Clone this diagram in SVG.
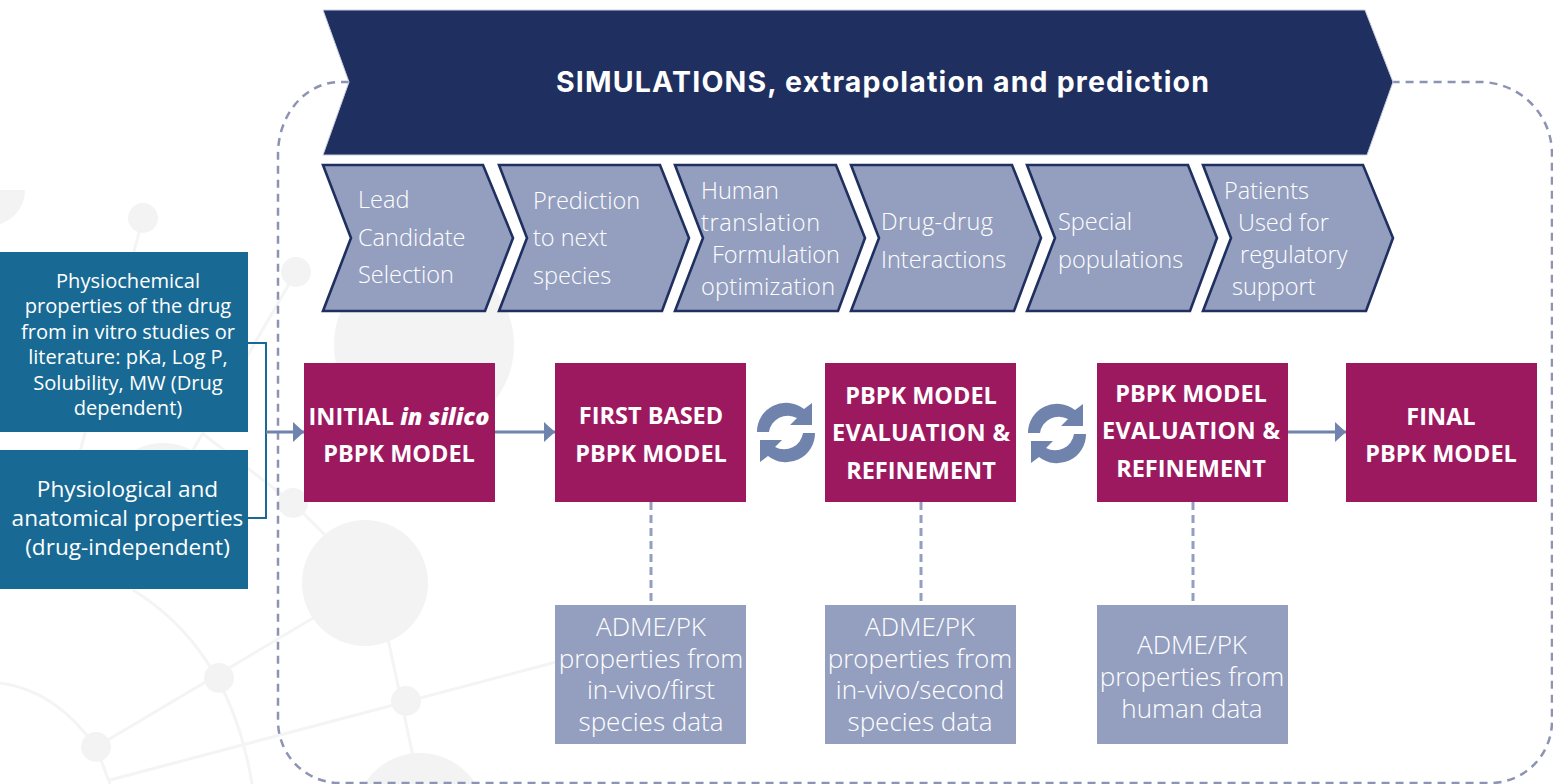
<svg xmlns="http://www.w3.org/2000/svg" width="1553" height="784" viewBox="0 0 1553 784">
<style>
text{font-family:"Open Sans","Noto Sans",sans-serif;fill:#fff}
.bgl{fill:none;stroke:#f4f4f4;stroke-width:3}
.bgc{fill:#f3f3f3}
.chev{fill:#949fc0;stroke:#1f2f5f;stroke-width:2.6}
.ct{font-size:23.5px;font-weight:300}
.mag{fill:#9c195f}
.mt{font-size:23.5px;font-weight:700;text-anchor:middle}
.teal{fill:#186a94}
.t1{font-size:20.1px;text-anchor:middle}
.t2{font-size:22.6px;text-anchor:middle}
.grey{fill:#949fc0}
.gt{font-size:26px;text-anchor:middle;font-weight:300}
.dash{fill:none;stroke:#949fc0;stroke-width:3;stroke-dasharray:8 5}
.arr{fill:none;stroke:#6f83ad;stroke-width:3}
</style>
<defs>
<marker id="ah" markerUnits="userSpaceOnUse" markerWidth="12" markerHeight="20" refX="11" refY="10" orient="auto"><path d="M0 0L11 10L0 20Z" fill="#6f83ad"/></marker>
<g id="sync"><path d="M-29 0A29 29 0 0 1 18-23L26-29V-7H4L11-14A19 19 0 0 0-17 0Z" fill="#6f83ad"/><path d="M29 1A29 29 0 0 1-18 24L-26 30V8H-4L-11 15A19 19 0 0 0 17 1Z" fill="#6f83ad"/></g>
</defs>
<g id="background">
<path class="bgl" d="M143 218L75 470M296 272L193 450M203 434L293 503L335 545M335 605L96 747M385 625L416 770M110 780L560 661M96 747L110 784M133 590Q230 650 252 784M0 683Q55 690 96 747"/>
<path class="bgc" d="M-12 190H25A36 36 0 0 1-12 226Z"/>
<circle class="bgc" cx="143" cy="218" r="15"/>
<circle class="bgc" cx="296" cy="272" r="15"/>
<circle class="bgc" cx="424" cy="345" r="90"/>
<circle class="bgc" cx="163" cy="505" r="62"/>
<circle class="bgc" cx="293" cy="503" r="15"/>
<circle class="bgc" cx="365" cy="583" r="63"/>
<circle class="bgc" cx="219" cy="678" r="15"/>
<circle class="bgc" cx="96" cy="747" r="15"/>
<circle class="bgc" cx="406" cy="701" r="15"/>
<circle class="bgc" cx="420" cy="818" r="65"/>
</g>
<g id="connectors">
<path d="M349 82H340A62 72 0 0 0 278 155V720A62 62 0 0 0 340 783H1490A62 62 0 0 0 1552 720V155A72 72 0 0 0 1480 82H1393" fill="none" stroke="#8d93b3" stroke-width="2.5" stroke-dasharray="8 6"/>
<path d="M248 343H266V518H248" fill="none" stroke="#186a94" stroke-width="2"/>
<path class="arr" d="M266 432H304" marker-end="url(#ah)"/>
<path class="arr" d="M495 432H555" marker-end="url(#ah)"/>
<path class="arr" d="M1288 432H1346" marker-end="url(#ah)"/>
<path class="dash" d="M651 502V605"/>
<path class="dash" d="M921 502V605"/>
<path class="dash" d="M1193 502V605"/>
</g>
<g id="banner"><path d="M323 10H1365L1393 82L1367 155H323L349 82Z" fill="#1f2f5f" stroke="#c9cede" stroke-width="1"/>
<text x="556" y="92" font-size="28.5" font-weight="700" textLength="653" lengthAdjust="spacing" style="font-family:Inter,'Open Sans',sans-serif">SIMULATIONS, extrapolation and prediction</text></g>
<g id="step1"><path class="chev" d="M323 165H483L513 238L485 311H323L351 238Z"/><text class="ct"><tspan x="358" y="208">Lead</tspan><tspan x="358" y="246">Candidate</tspan><tspan x="358" y="283">Selection</tspan></text></g>
<g id="step2"><path class="chev" d="M499 165H660L689 238L662 311H499L527 238Z"/><text class="ct"><tspan x="533" y="209">Prediction</tspan><tspan x="533" y="246">to next</tspan><tspan x="533" y="284">species</tspan></text></g>
<g id="step3"><path class="chev" d="M675 165H836L865 238L838 311H675L703 238Z"/><text class="ct"><tspan x="701" y="199">Human</tspan><tspan x="701" y="231" textLength="119">translation</tspan><tspan x="712" y="263">Formulation</tspan><tspan x="701" y="295" textLength="134">optimization</tspan></text></g>
<g id="step4"><path class="chev" d="M851 165H1012L1041 238L1014 311H851L879 238Z"/><text class="ct"><tspan x="881" y="230" textLength="112">Drug-drug</tspan><tspan x="881" y="268">Interactions</tspan></text></g>
<g id="step5"><path class="chev" d="M1027 165H1188L1217 238L1190 311H1027L1055 238Z"/><text class="ct"><tspan x="1058" y="230">Special</tspan><tspan x="1058" y="268">populations</tspan></text></g>
<g id="step6"><path class="chev" d="M1203 165H1363L1393 238L1366 311H1203L1231 238Z"/><text class="ct"><tspan x="1224" y="199">Patients</tspan><tspan x="1238" y="231">Used for</tspan><tspan x="1240" y="263">regulatory</tspan><tspan x="1232" y="295">support</tspan></text></g>
<g id="input1"><rect class="teal" x="0" y="252" width="248" height="180"/><text class="t1"><tspan x="128" y="288">Physiochemical</tspan><tspan x="128" y="313">properties of the drug</tspan><tspan x="128" y="339">from in vitro studies or</tspan><tspan x="128" y="364">literature: pKa, Log P,</tspan><tspan x="128" y="390">Solubility, MW (Drug</tspan><tspan x="128" y="415">dependent)</tspan></text></g>
<g id="input2"><rect class="teal" x="0" y="450" width="248" height="139"/><text class="t2"><tspan x="127.5" y="497">Physiological and</tspan><tspan x="127.5" y="526">anatomical properties</tspan><tspan x="127.5" y="555">(drug-independent)</tspan></text></g>
<g id="model1"><rect class="mag" x="304" y="363" width="191" height="139"/><text class="mt"><tspan x="399" y="425">INITIAL <tspan font-style="italic" font-weight="800">in silico</tspan></tspan><tspan x="399" y="462">PBPK MODEL</tspan></text></g>
<g id="model2"><rect class="mag" x="555" y="363" width="191" height="139"/><text class="mt"><tspan x="651" y="424">FIRST BASED</tspan><tspan x="651" y="462">PBPK MODEL</tspan></text></g>
<g id="model3"><rect class="mag" x="825" y="363" width="191" height="139"/><text class="mt"><tspan x="921" y="404">PBPK MODEL</tspan><tspan x="921" y="441" textLength="178">EVALUATION &amp;</tspan><tspan x="921" y="479">REFINEMENT</tspan></text></g>
<g id="model4"><rect class="mag" x="1097" y="363" width="191" height="139"/><text class="mt"><tspan x="1191" y="402">PBPK MODEL</tspan><tspan x="1191" y="439" textLength="178">EVALUATION &amp;</tspan><tspan x="1191" y="477">REFINEMENT</tspan></text></g>
<g id="model5"><rect class="mag" x="1346" y="363" width="191" height="139"/><text class="mt"><tspan x="1441" y="425">FINAL</tspan><tspan x="1441" y="462">PBPK MODEL</tspan></text></g>
<g id="sync1"><use href="#sync" x="786" y="432"/></g>
<g id="sync2"><use href="#sync" x="1057" y="433"/></g>
<g id="data1"><rect class="grey" x="555" y="605" width="191" height="139"/><text class="gt"><tspan x="651" y="636">ADME/PK</tspan><tspan x="651" y="668">properties from</tspan><tspan x="651" y="699">in-vivo/first</tspan><tspan x="651" y="731">species data</tspan></text></g>
<g id="data2"><rect class="grey" x="825" y="605" width="191" height="139"/><text class="gt"><tspan x="920" y="636">ADME/PK</tspan><tspan x="920" y="668">properties from</tspan><tspan x="920" y="699">in-vivo/second</tspan><tspan x="920" y="731">species data</tspan></text></g>
<g id="data3"><rect class="grey" x="1097" y="605" width="191" height="139"/><text class="gt"><tspan x="1192" y="654">ADME/PK</tspan><tspan x="1192" y="686">properties from</tspan><tspan x="1192" y="718">human data</tspan></text></g>
</svg>
